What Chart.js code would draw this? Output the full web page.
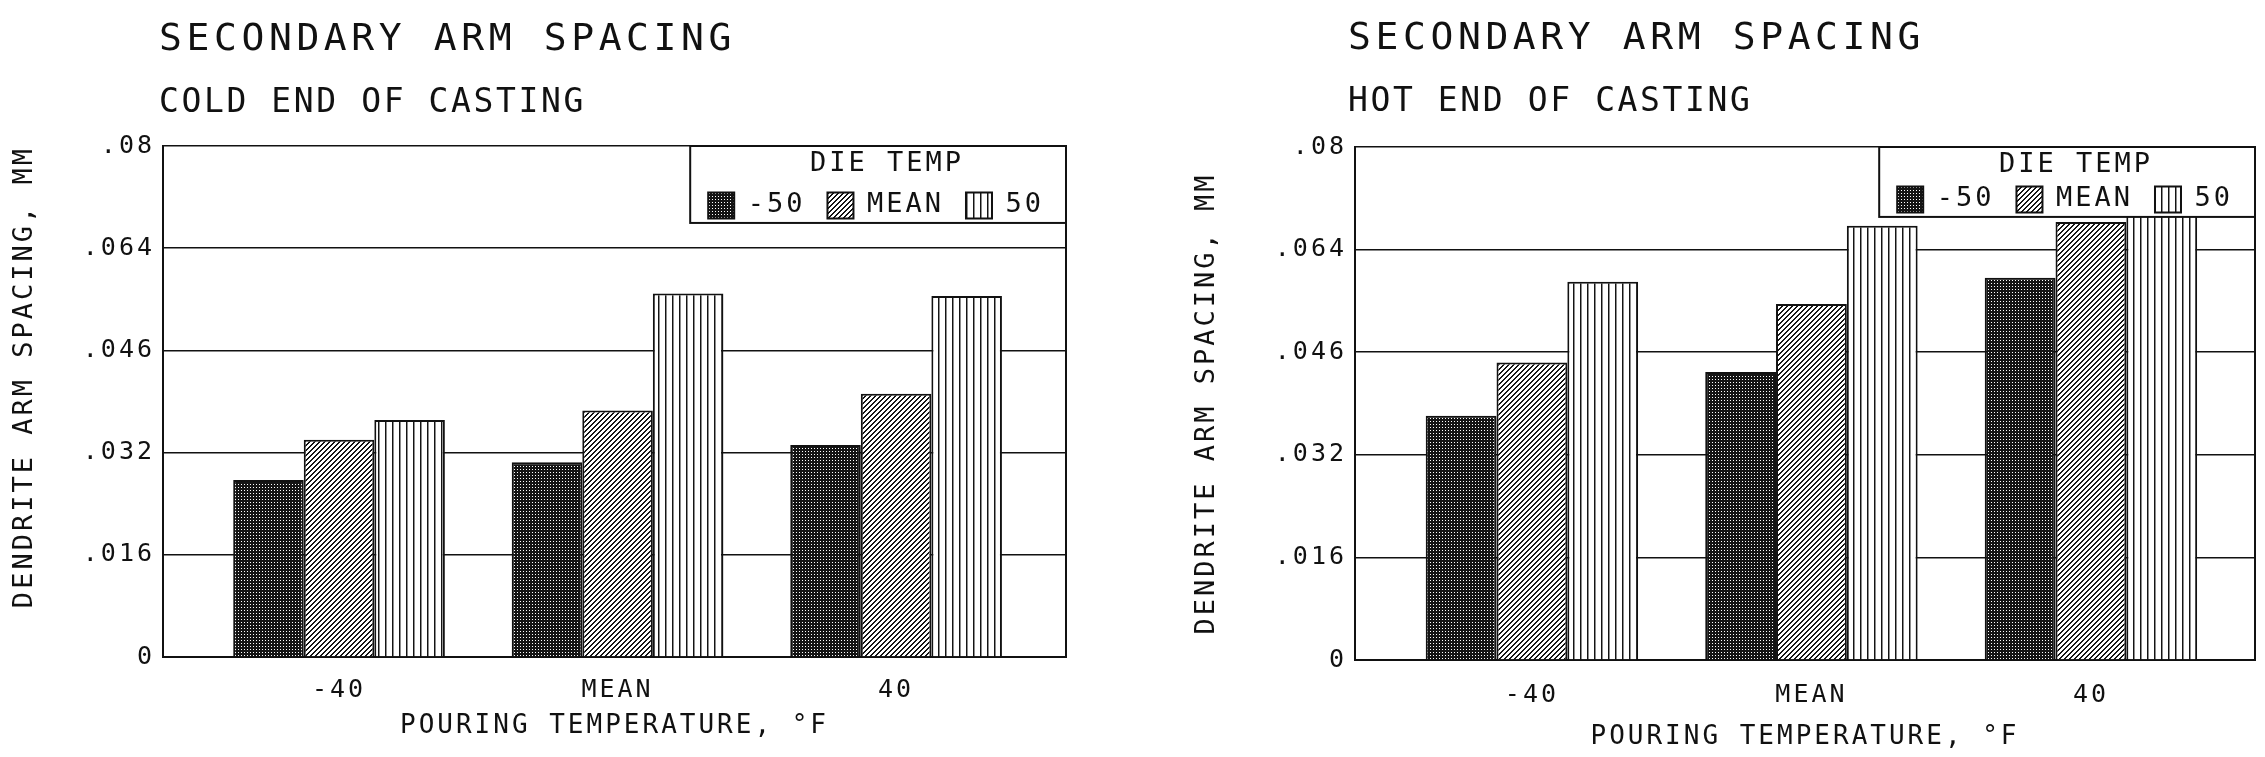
<!DOCTYPE html>
<html lang="en">
<head>
<meta charset="UTF-8">
<title>Secondary Arm Spacing</title>
<script src="https://cdn.jsdelivr.net/npm/chart.js"></script>
<style>
  body { margin: 0; background: #fff; overflow: hidden; }
  .page { position: relative; width: 2265px; height: 757px; }
  .page canvas { position: absolute; top: 0; }
  .ttl { position: absolute; font-family: 'DejaVu Sans Mono', monospace; color: #111; white-space: nowrap; line-height: 1; }
  .t1 { font-size: 38px; letter-spacing: 4.6px; }
  .t2 { font-size: 33px; letter-spacing: 2.6px; }
</style>
</head>
<body>
<div class="page">
  <canvas id="cold" width="1132" height="757" style="left:0"></canvas>
  <canvas id="hot" width="1133" height="757" style="left:1132px"></canvas>
  <div class="ttl t1" style="left:159px;top:18px">SECONDARY ARM SPACING</div>
  <div class="ttl t2" style="left:159px;top:84px">COLD END OF CASTING</div>
  <div class="ttl t1" style="left:1348px;top:17px">SECONDARY ARM SPACING</div>
  <div class="ttl t2" style="left:1348px;top:83px">HOT END OF CASTING</div>
</div>

<script>
const pourTemps = ['-40', 'MEAN', '40'];
const dieTemps = ['-50', 'MEAN', '50'];
const yTickLabels = ['0', '.016', '.032', '.046', '.064', '.08'];

// cold end of casting, one array per die temp
const coldLow = [0.0277, 0.0305, 0.0332];
const coldMean = [0.0340, 0.0386, 0.0412];
const coldHigh = [0.0371, 0.0569, 0.0565];

// hot end of casting
const hotLow = [0.0381, 0.0449, 0.0596];
const hotMean = [0.0464, 0.0555, 0.0683];
const hotHigh = [0.0590, 0.0677, 0.0705];

const ink = '#111';
Chart.defaults.font.family = "'DejaVu Sans Mono', monospace";
Chart.defaults.color = ink;

function pattern(ctx, size, shade) {
    const c = document.createElement('canvas');
    c.width = size;
    c.height = size;
    const g = c.getContext('2d');
    const img = g.createImageData(size, size);
    for (let y = 0; y < size; y++) {
        for (let x = 0; x < size; x++) {
            const k = (y * size + x) * 4;
            const v = shade(x, y);
            img.data[k] = img.data[k + 1] = img.data[k + 2] = v;
            img.data[k + 3] = 255;
        }
    }
    g.putImageData(img, 0, 0);
    return ctx.createPattern(c, 'repeat');
}

// plotter fills: stipple, diagonal hatch, vertical lines
function fills(ctx) {
    return [
        pattern(ctx, 6, (x, y) => (x % 3 === 1 && y % 3 === 1) ? 255 : 20),
        pattern(ctx, 5, (x, y) => (x + y) % 5 < 2 ? 20 : 255),
        pattern(ctx, 7, (x) => x === 0 ? 20 : x === 1 ? 140 : 255)
    ];
}

// wide plotter lettering for everything chart.js draws
const plotterText = {
    id: 'plotterText',
    beforeUpdate(chart) { chart.ctx.letterSpacing = '3px'; },
    beforeDraw(chart) { chart.ctx.letterSpacing = '3px'; }
};

// legend sits boxed inside the top right corner of the plot
const boxedLegend = {
    id: 'boxedLegend',
    afterInit(chart) {
        Chart.layouts.removeBox(chart, chart.legend);
    },
    afterLayout(chart) {
        const lg = chart.legend;
        const a = chart.chartArea;
        lg.update(a.right - a.left, a.bottom - a.top, { left: 0, top: 0, right: 0, bottom: 0 });
        lg.left = a.left;
        lg.right = a.right;
        lg.width = a.right - a.left;
        lg.top = a.top;
        lg.bottom = a.top + lg.height;
    },
    afterDatasetsDraw(chart) {
        const lg = chart.legend;
        const ctx = chart.ctx;
        const w = lg.lineWidths[0] + 18;
        const h = lg.height - 6;
        ctx.save();
        ctx.fillStyle = '#fff';
        ctx.fillRect(lg.right - w, lg.top, w, h);
        ctx.strokeStyle = ink;
        ctx.lineWidth = 2;
        ctx.strokeRect(lg.right - w, lg.top, w, h);
        ctx.restore();
        lg.draw();
    }
};

function makeChart(id, series, L) {
    const ctx = document.getElementById(id).getContext('2d');
    const pats = fills(ctx);
    return new Chart(ctx, {
        type: 'bar',
        data: {
            datasets: series.map((vals, i) => ({
                label: dieTemps[i],
                data: vals.map((v, j) => ({ x: j, y: v })),
                backgroundColor: pats[i],
                borderColor: ink,
                borderWidth: 2,
                categoryPercentage: 0.76,
                barPercentage: 1
            }))
        },
        options: {
            responsive: false,
            animation: false,
            devicePixelRatio: 1,
            layout: { padding: { top: L.top, right: L.right, bottom: 0, left: 0 } },
            plugins: {
                tooltip: { enabled: false },
                legend: {
                    position: 'top',
                    align: 'end',
                    title: {
                        display: true,
                        text: 'DIE TEMP',
                        color: ink,
                        font: { size: 27, lineHeight: L.legendTitleLh },
                        padding: { top: 4.5, bottom: 0 }
                    },
                    labels: { boxWidth: 26, boxHeight: 26, padding: 22, color: ink, font: { size: 27 } }
                }
            },
            scales: {
                x: {
                    type: 'linear',
                    min: L.xMin,
                    max: L.xMax,
                    offset: false,
                    grid: { display: false, drawTicks: false, offset: false },
                    border: { color: ink, width: 2 },
                    ticks: {
                        stepSize: 1,
                        includeBounds: false,
                        autoSkip: false,
                        maxRotation: 0,
                        padding: L.tickPad,
                        font: { size: 25 },
                        callback: (v) => pourTemps[v] ?? ''
                    },
                    title: {
                        display: true,
                        text: 'POURING TEMPERATURE, °F',
                        font: { size: 26 },
                        padding: { top: 0, bottom: L.xTitlePad }
                    },
                    afterFit: (s) => { s.height = L.xHeight; }
                },
                y: {
                    min: 0,
                    max: 0.08,
                    grid: { color: ink, lineWidth: 1.5, drawTicks: false },
                    border: { color: ink, width: 2 },
                    ticks: {
                        stepSize: 0.016,
                        padding: 8,
                        font: { size: 25 },
                        callback: (v, i) => yTickLabels[i]
                    },
                    title: {
                        display: true,
                        text: 'DENDRITE ARM SPACING, MM',
                        align: L.yTitleAlign,
                        font: { size: 27 },
                        padding: { top: L.yTitlePad, bottom: 0 }
                    },
                    afterFit: (s) => { s.width = L.yWidth; }
                },
                y2: {
                    position: 'right',
                    min: 0,
                    max: 0.08,
                    grid: { display: false, drawTicks: false },
                    border: { color: ink, width: 2 },
                    ticks: { display: false },
                    afterFit: (s) => { s.width = 0; }
                }
            }
        },
        plugins: [plotterText, boxedLegend]
    });
}

makeChart('cold', [coldLow, coldMean, coldHigh], {
    top: 146, right: 66, yWidth: 163, xHeight: 100, tickPad: 18,
    xTitlePad: 15, yTitlePad: 9, yTitleAlign: 'end', legendTitleLh: 0.72,
    xMin: -0.632, xMax: 2.61
});

makeChart('hot', [hotLow, hotMean, hotHigh], {
    top: 147, right: 10, yWidth: 223, xHeight: 97, tickPad: 20,
    xTitlePad: 4, yTitlePad: 59, yTitleAlign: 'center', legendTitleLh: 0.46,
    xMin: -0.633, xMax: 2.587
});
</script>
</body>
</html>
